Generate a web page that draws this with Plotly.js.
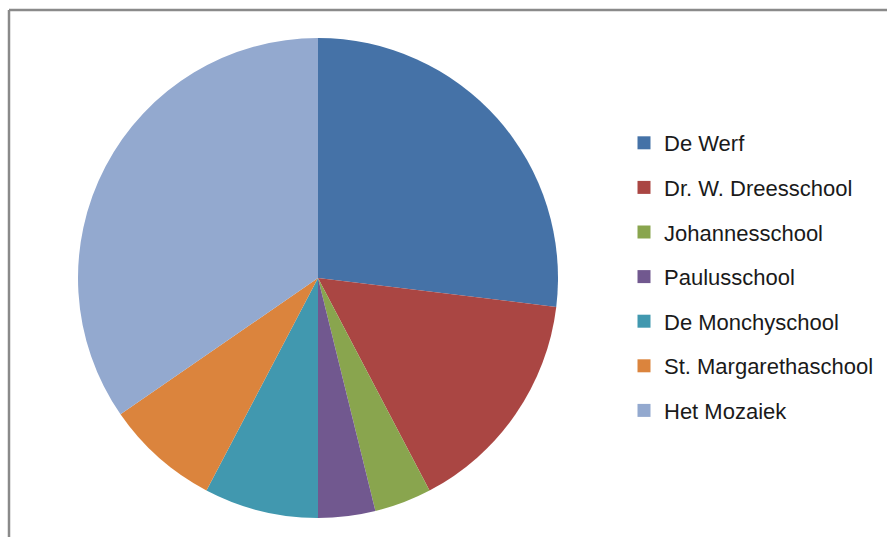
<!DOCTYPE html>
<html>
<head>
<meta charset="utf-8">
<script src="https://cdn.plot.ly/plotly-3.0.1.min.js"></script>
<style>
html,body{margin:0;padding:0;background:#fff;}
#chart{width:887px;height:537px;}
</style>
</head>
<body>
<div id="chart"></div>
<script>
const schools = ["De Werf", "Dr. W. Dreesschool", "Johannesschool", "Paulusschool", "De Monchyschool", "St. Margarethaschool", "Het Mozaiek"];
const counts = [7, 4, 1, 1, 2, 2, 9];
const colors = ["#4572A7", "#AA4643", "#89A54E", "#71588F", "#4198AF", "#DB843D", "#93A9CF"];

const W = 887, H = 537;
const cx = 318, cy = 278, r = 240;

const traces = [{
  type: "pie",
  labels: schools,
  values: counts,
  sort: false,
  direction: "clockwise",
  rotation: 0,
  textinfo: "none",
  hoverinfo: "label+value+percent",
  marker: {colors: colors, line: {width: 0}},
  showlegend: false,
  domain: {x: [(cx - r) / W, (cx + r) / W], y: [(H - cy - r) / H, (H - cy + r) / H]}
}];

schools.forEach((s, i) => {
  traces.push({
    type: "scatter",
    mode: "markers",
    x: [null], y: [null],
    name: s,
    legendgroup: "g" + i,
    marker: {symbol: "square", size: 13, color: colors[i]},
    hoverinfo: "skip",
    showlegend: true
  });
});

const layout = {
  width: W, height: H,
  margin: {l: 0, r: 0, t: 0, b: 0},
  paper_bgcolor: "#ffffff",
  plot_bgcolor: "#ffffff",
  xaxis: {visible: false, domain: [0.99, 1]},
  yaxis: {visible: false, domain: [0.99, 1]},
  showlegend: true,
  legend: {
    x: 624 / W, xanchor: "left",
    y: 1 - 122 / H, yanchor: "top",
    font: {family: "Liberation Sans, Arial, sans-serif", size: 22, color: "#1a1a1a"},
    tracegroupgap: 13,
    bgcolor: "rgba(0,0,0,0)",
    borderwidth: 0
  },
  shapes: [
    {type: "line", xref: "paper", yref: "paper", x0: 9 / W, x1: 1.01, y0: 1 - 10 / H, y1: 1 - 10 / H, line: {color: "#8a8a8a", width: 2.5}},
    {type: "line", xref: "paper", yref: "paper", x0: 9 / W, x1: 9 / W, y0: 1 - 10 / H, y1: -0.01, line: {color: "#8a8a8a", width: 2.5}}
  ]
};

Plotly.newPlot("chart", traces, layout, {displayModeBar: false, staticPlot: false});
</script>
</body>
</html>
